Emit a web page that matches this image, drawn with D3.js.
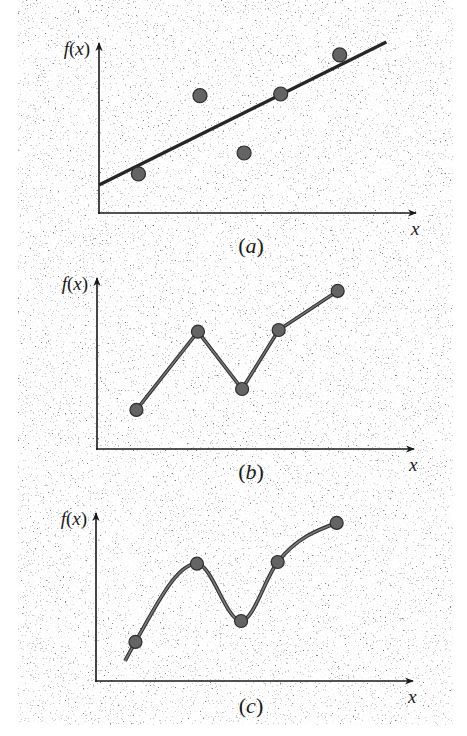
<!DOCTYPE html>
<html>
<head>
<meta charset="utf-8">
<script src="https://cdn.jsdelivr.net/npm/d3@7"></script>
<style>
  body { margin: 0; background: #ffffff; }
  #wrapper svg { display: block; }
  #wrapper text { font-family: "Liberation Serif", "DejaVu Serif", serif; }
</style>
</head>
<body>
<div id="wrapper"></div>
<script>
// the same five measured points are used in all three panels
const pointX = [1.25, 3.2, 4.6, 5.76, 7.63]
const pointY = [2.3, 6.9, 3.53, 7.0, 9.3]

// (a) least-squares straight line, start and end
const fitX = [0, 9.11]
const fitY = [1.65, 10.06]

// (c) the smooth curve starts a little before the first point
const curveLeadX = [0.92]
const curveLeadY = [1.18]

const panelLabels = ["a", "b", "c"]

function drawFigure() {
    const width = 467
    const height = 736

    // where each little chart sits (origin of the axes)
    const panels = [
        { ox: 99, oy: 213, axisH: 170, labelDy: 40, r: 7 },
        { ox: 97, oy: 449, axisH: 171, labelDy: 30, r: 6.5 },
        { ox: 96, oy: 681, axisH: 168, labelDy: 32, r: 6.5 },
    ]
    const axisW = 317

    const wrapper = d3.select("#wrapper")
        .append("svg")
            .attr("width", width)
            .attr("height", height)

    const defs = wrapper.append("defs")

    // scanned-paper speckle
    const speckle = defs.append("filter")
        .attr("id", "speckle")
        .attr("x", 0).attr("y", 0).attr("width", 1).attr("height", 1)
    speckle.append("feTurbulence")
        .attr("type", "fractalNoise")
        .attr("baseFrequency", 0.6)
        .attr("numOctaves", 3)
        .attr("seed", 7)
    speckle.append("feColorMatrix")
        .attr("type", "matrix")
        .attr("values", "0 0 0 0 0.12  0 0 0 0 0.12  0 0 0 0 0.12  1 0 0 0 0")
    speckle.append("feComponentTransfer")
        .append("feFuncA")
            .attr("type", "discrete")
            .attr("tableValues", "0 0 0 0 0 0 0.06 0.35 0.8 0.95")

    defs.append("marker")
        .attr("id", "arrow")
        .attr("viewBox", "0 0 10 10")
        .attr("refX", 9).attr("refY", 5)
        .attr("markerWidth", 9).attr("markerHeight", 9)
        .attr("markerUnits", "userSpaceOnUse")
        .attr("orient", "auto")
        .append("path")
            .attr("d", "M0,1 L10,5 L0,9 L3,5 Z")
            .attr("fill", "#1a1a1a")

    wrapper.append("rect")
        .attr("x", 18).attr("y", 0)
        .attr("width", 435).attr("height", 725)
        .attr("fill", "#fff")
        .attr("filter", "url(#speckle)")

    const points = pointX.map((x, i) => ({ x: x, y: pointY[i] }))

    panels.forEach((p, i) => {
        const bound = wrapper.append("g")
            .attr("fill", "#1a1a1a")

        const xScale = d3.scaleLinear()
            .domain([0, 10])
            .range([p.ox, p.ox + axisW * 10 / 10.05])
        const yScale = d3.scaleLinear()
            .domain([0, 10])
            .range([p.oy, p.oy - 170])

        // axes with arrow heads
        bound.append("line")
            .attr("x1", p.ox).attr("y1", p.oy + 1)
            .attr("x2", p.ox).attr("y2", p.oy - p.axisH)
            .attr("stroke", "#1a1a1a").attr("stroke-width", 1.6)
            .attr("marker-end", "url(#arrow)")
        bound.append("line")
            .attr("x1", p.ox - 1).attr("y1", p.oy)
            .attr("x2", p.ox + axisW).attr("y2", p.oy)
            .attr("stroke", "#1a1a1a").attr("stroke-width", 1.6)
            .attr("marker-end", "url(#arrow)")

        // f(x) label
        const fx = bound.append("text")
            .attr("x", p.ox - 9)
            .attr("y", p.oy - p.axisH + 12)
            .attr("text-anchor", "end")
            .attr("font-size", 19)
        fx.append("tspan").attr("font-style", "italic").text("f")
        fx.append("tspan").text("(")
        fx.append("tspan").attr("font-style", "italic").text("x")
        fx.append("tspan").text(")")

        bound.append("text")
            .attr("x", p.ox + axisW - 5)
            .attr("y", p.oy + 22)
            .attr("font-size", 19)
            .attr("font-style", "italic")
            .text("x")

        const lab = bound.append("text")
            .attr("x", 251)
            .attr("y", p.oy + p.labelDy)
            .attr("text-anchor", "middle")
            .attr("font-size", 22)
        lab.append("tspan").text("(")
        lab.append("tspan").attr("font-style", "italic").text(panelLabels[i])
        lab.append("tspan").text(")")

        const lineGen = d3.line()
            .x(d => xScale(d.x))
            .y(d => yScale(d.y))

        if (i === 0) {
            const fit = fitX.map((x, k) => ({ x: x, y: fitY[k] }))
            bound.append("path")
                .attr("d", lineGen(fit))
                .attr("fill", "none")
                .attr("stroke", "#262626")
                .attr("stroke-width", 3.4)
        } else if (i === 1) {
            bound.append("path")
                .attr("d", lineGen(points))
                .attr("fill", "none")
                .attr("stroke", "#333")
                .attr("stroke-width", 3.6)
            bound.append("path")
                .attr("d", lineGen(points))
                .attr("fill", "none")
                .attr("stroke", "#777")
                .attr("stroke-width", 1.4)
        } else {
            const lead = curveLeadX.map((x, k) => ({ x: x, y: curveLeadY[k] }))
            const curve = lineGen.curve(d3.curveMonotoneX)(lead.concat(points))
            bound.append("path")
                .attr("d", curve)
                .attr("fill", "none")
                .attr("stroke", "#333")
                .attr("stroke-width", 3.8)
            bound.append("path")
                .attr("d", curve)
                .attr("fill", "none")
                .attr("stroke", "#7a7a7a")
                .attr("stroke-width", 1.6)
        }

        bound.selectAll("circle.pt")
            .data(points)
            .join("circle")
                .attr("class", "pt")
                .attr("cx", d => xScale(d.x))
                .attr("cy", d => yScale(d.y))
                .attr("r", p.r)
                .attr("fill", "#646464")
                .attr("stroke", "#2e2e2e")
                .attr("stroke-width", 1.2)
    })
}

drawFigure()
</script>
</body>
</html>
